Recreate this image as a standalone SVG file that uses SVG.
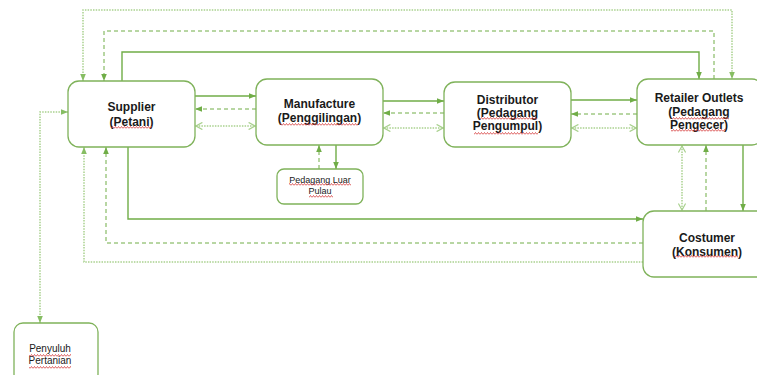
<svg xmlns="http://www.w3.org/2000/svg" width="757" height="375" viewBox="0 0 757 375">
<style>
.box{fill:#fff;stroke:#7fb25a;stroke-width:1.3}
.t{font-family:"Liberation Sans",Arial,sans-serif;font-size:12px;font-weight:bold;fill:#1a1a1a;text-anchor:middle}
.ts{font-family:"Liberation Sans",Arial,sans-serif;font-size:9px;fill:#1a1a1a;text-anchor:middle}
.tp{font-family:"Liberation Sans",Arial,sans-serif;font-size:10px;fill:#1a1a1a;text-anchor:middle}
.solid{fill:none;stroke:#70ad47;stroke-width:1.4}
.dash{fill:none;stroke:#70ad47;stroke-width:1;stroke-dasharray:4 3}
.dot{fill:none;stroke:#a9d18e;stroke-width:1.5;stroke-dasharray:1.5 1.2}
.sq{fill:url(#sq)}
</style>
<defs>
<marker id="ah" viewBox="0 0 10 10" refX="10" refY="5" markerWidth="7" markerHeight="7" orient="auto-start-reverse" markerUnits="userSpaceOnUse"><path d="M0,1 L10,5 L0,9 z" fill="#70ad47"/></marker>
<marker id="ahl" viewBox="0 0 10 10" refX="10" refY="5" markerWidth="7" markerHeight="7" orient="auto-start-reverse" markerUnits="userSpaceOnUse"><path d="M0,1 L10,5 L0,9 z" fill="#86bd62"/></marker>
<marker id="ch" viewBox="0 0 10 10" refX="9" refY="5" markerWidth="8" markerHeight="8" orient="auto-start-reverse" markerUnits="userSpaceOnUse"><path d="M1,0.5 L9,5 L1,9.5" fill="none" stroke="#a9d18e" stroke-width="1.5"/></marker>
<pattern id="sq" width="3" height="3" patternUnits="userSpaceOnUse"><path d="M0,2.5 L1.5,0.5 L3,2.5" fill="none" stroke="#d43a3a" stroke-width="0.8"/></pattern>
</defs>

<g id="connectors">
<path class="dot" d="M83,81 V10 H732 V79" marker-start="url(#ahl)" marker-end="url(#ahl)"/>
<path class="dash" d="M714,79 V31 H104 V81" marker-end="url(#ah)"/>
<path class="solid" d="M122,81 V52 H699 V79" marker-end="url(#ah)"/>
<path class="solid" d="M195,96 H256" marker-end="url(#ah)"/>
<path class="dash" d="M256,109 H195" marker-end="url(#ah)"/>
<path class="dot" d="M196,126 H255" marker-start="url(#ch)" marker-end="url(#ch)"/>
<path class="solid" d="M383,101 H444" marker-end="url(#ah)"/>
<path class="dash" d="M444,113 H383" marker-end="url(#ah)"/>
<path class="dot" d="M384,128 H443" marker-start="url(#ch)" marker-end="url(#ch)"/>
<path class="solid" d="M571,100 H637" marker-end="url(#ah)"/>
<path class="dash" d="M637,114 H571" marker-end="url(#ah)"/>
<path class="dot" d="M572,128 H636" marker-start="url(#ch)" marker-end="url(#ch)"/>
<path class="dash" d="M319,169 V145" marker-end="url(#ah)"/>
<path class="solid" d="M336,145 V169" marker-end="url(#ah)"/>
<path class="dot" d="M682,146 V210" marker-start="url(#ch)" marker-end="url(#ch)"/>
<path class="dash" d="M706,211 V145" marker-end="url(#ah)"/>
<path class="solid" d="M743,145 V211" marker-end="url(#ah)"/>
<path class="solid" d="M128,147 V219 H643" marker-end="url(#ah)"/>
<path class="dash" d="M643,243 H106 V147" marker-end="url(#ah)"/>
<path class="dot" d="M643,262 H84 V147" marker-end="url(#ahl)"/>
<path class="dot" d="M68,112 H40 V323" marker-start="url(#ahl)" marker-end="url(#ahl)"/>
</g>

<g id="supplier">
<rect class="box" x="68" y="81" width="127" height="66" rx="11"/>
<text class="t" x="131.5" y="111">Supplier</text>
<text class="t" x="131.5" y="126">(Petani)</text>
<rect class="sq" x="111" y="126" width="41" height="3"/>
</g>

<g id="manufacture">
<rect class="box" x="256" y="79" width="127" height="66" rx="11"/>
<text class="t" x="319.5" y="108">Manufacture</text>
<text class="t" x="319.5" y="122">(Penggilingan)</text>
<rect class="sq" x="280" y="123" width="78" height="3"/>
</g>

<g id="distributor">
<rect class="box" x="444" y="82" width="127" height="65" rx="11"/>
<text class="t" x="507.5" y="104">Distributor</text>
<text class="t" x="507.5" y="117">(Pedagang</text>
<text class="t" x="507.5" y="130">Pengumpul)</text>
<rect class="sq" x="480" y="117" width="57" height="3"/>
<rect class="sq" x="474" y="132" width="64" height="3"/>
</g>

<g id="retailer">
<rect class="box" x="637" y="79" width="126" height="66" rx="11"/>
<text class="t" x="699" y="102">Retailer Outlets</text>
<text class="t" x="699" y="115.5">(Pedagang</text>
<text class="t" x="699" y="129">Pengecer)</text>
<rect class="sq" x="672" y="117" width="57" height="3"/>
<rect class="sq" x="671" y="129" width="54" height="3"/>
</g>

<g id="costumer">
<rect class="box" x="643" y="211" width="128" height="66" rx="11"/>
<text class="t" x="707" y="242">Costumer</text>
<text class="t" x="707" y="255.5">(Konsumen)</text>
<rect class="sq" x="675" y="255" width="63" height="3"/>
</g>

<g id="pedagang-luar-pulau">
<rect class="box" x="277" y="169" width="86" height="35" rx="7"/>
<text class="ts" x="320" y="182.5">Pedagang Luar</text>
<text class="ts" x="320" y="194">Pulau</text>
<rect class="sq" x="289" y="183" width="62" height="3"/>
<rect class="sq" x="309" y="195" width="24" height="3"/>
</g>

<g id="penyuluh">
<rect class="box" x="14" y="323" width="84" height="60" rx="9"/>
<text class="tp" x="50" y="352">Penyuluh</text>
<text class="tp" x="50" y="364">Pertanian</text>
<rect class="sq" x="29" y="354" width="42" height="3"/>
<rect class="sq" x="29" y="366" width="42" height="3"/>
</g>
</svg>
